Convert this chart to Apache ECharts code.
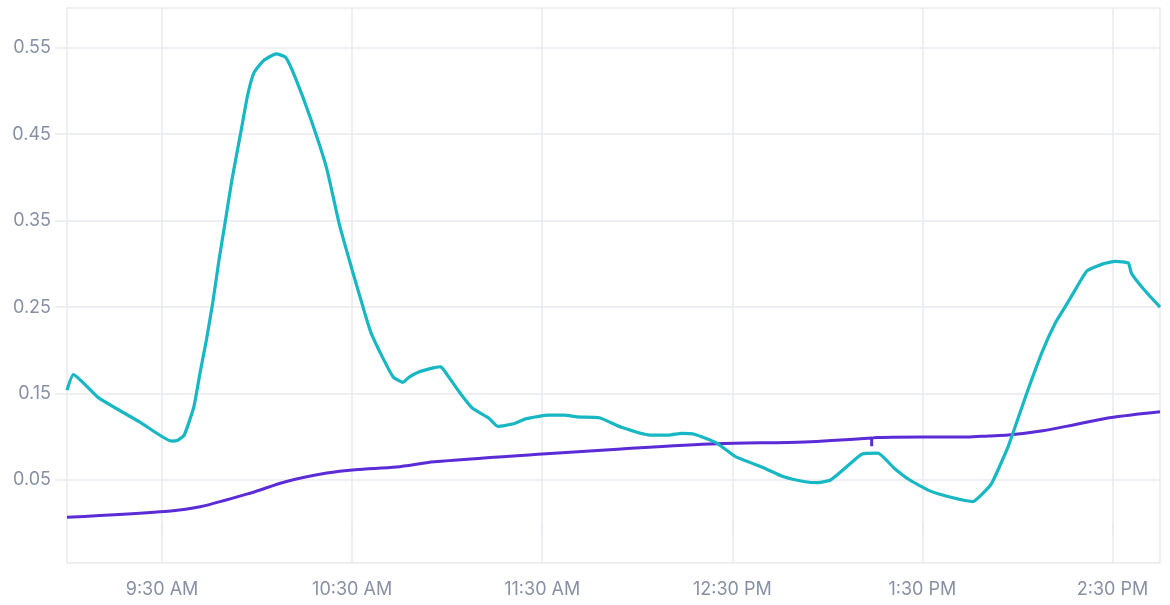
<!DOCTYPE html>
<html>
<head>
<meta charset="utf-8">
<script src="https://cdn.jsdelivr.net/npm/echarts@6/dist/echarts.min.js"></script>
<style>
  html, body { margin: 0; padding: 0; background: #fff; }
  #main { width: 1170px; height: 605px; }
</style>
</head>
<body>
<div id="main"></div>
<script>
// cyan series
let cyanTimes = ['09:00','09:02','09:10','09:23','09:33','09:35','09:37','09:40','09:42','09:44',
  '09:46','09:48','09:50','09:52','09:55','09:57','09:59','10:02','10:06','10:09',
  '10:12','10:17','10:22','10:26','10:30','10:34','10:36','10:40','10:43','10:46',
  '10:48','10:51','10:56','10:58','10:59','11:04','11:08','11:13','11:16','11:21',
  '11:25','11:32','11:37','11:41','11:48','11:55','12:04','12:10','12:14','12:18',
  '12:25','12:31','12:40','12:46','12:53','12:57','13:01','13:06','13:11','13:16',
  '13:21','13:26','13:32','13:39','13:46','13:50','13:52','13:57','14:03','14:08',
  '14:12','14:16','14:20','14:22','14:27','14:31','14:35','14:36','14:40','14:45'];
let cyanValues = [0.154,0.172,0.145,0.117,0.095,0.096,0.102,0.134,0.174,0.212,
  0.255,0.305,0.350,0.396,0.455,0.495,0.521,0.535,0.543,0.539,
  0.516,0.467,0.410,0.345,0.293,0.243,0.220,0.189,0.169,0.163,
  0.169,0.175,0.180,0.181,0.177,0.151,0.133,0.122,0.112,0.115,
  0.121,0.125,0.125,0.123,0.122,0.111,0.102,0.102,0.104,0.103,
  0.093,0.077,0.064,0.054,0.048,0.047,0.050,0.065,0.080,0.081,
  0.064,0.050,0.038,0.030,0.025,0.038,0.047,0.088,0.151,0.200,
  0.232,0.256,0.281,0.292,0.300,0.303,0.301,0.289,0.270,0.250];

// purple series
let purpleTimes = ['09:00','09:32','09:42','09:58','10:09','10:22','10:31','10:44','10:56','11:30',
  '11:55','12:25','12:53','13:14','13:14','13:14','13:30','13:44','13:51','13:57',
  '14:08','14:18','14:29','14:45'];
let purpleValues = [0.007,0.014,0.019,0.035,0.048,0.058,0.062,0.065,0.071,0.080,
  0.086,0.092,0.094,0.0985,0.089,0.0985,0.0997,0.0997,0.101,0.102,
  0.107,0.114,0.122,0.129];

let xTicks = ['09:30','10:30','11:30','12:30','13:30','14:30'];
let yTicks = [0.05,0.15,0.25,0.35,0.45,0.55];

// minutes since midnight
function toMin(hm) {
    let p = hm.split(':');
    return (+p[0]) * 60 + (+p[1]);
}
function fmtTime(v) {
    let h = Math.floor(v / 60);
    let m = Math.round(v % 60);
    let ap = h >= 12 ? 'PM' : 'AM';
    let hh = h % 12 === 0 ? 12 : h % 12;
    return hh + ':' + (m < 10 ? '0' + m : m) + ' ' + ap;
}
function pairs(t, v) {
    let temp = [];
    for (let i = 0; i < t.length; i++) {
        temp.push([toMin(t[i]), v[i]]);
    }
    return temp;
}

let gridColor = '#e8eaf0';
let labelColor = '#8790a5';
let font = 'Inter, "Open Sans", sans-serif';

let myChart = echarts.init(document.getElementById('main'));
myChart.setOption({
    animation: false,
    grid: {
        left: 67, top: 8, right: 10, bottom: 42,
        show: true,
        borderColor: gridColor,
        borderWidth: 1.5
    },
    xAxis: {
        type: 'value',
        min: toMin('09:00'),
        max: toMin('14:45'),
        axisLine: {show: false},
        axisTick: {
            show: true,
            length: 12,
            lineStyle: {color: gridColor, width: 1.5},
            customValues: xTicks.map(toMin)
        },
        axisLabel: {
            color: labelColor,
            fontSize: 18,
            fontFamily: font,
            margin: 18,
            customValues: xTicks.map(toMin),
            formatter: fmtTime
        },
        splitLine: {show: true, lineStyle: {color: gridColor, width: 1.5}}
    },
    yAxis: {
        type: 'value',
        min: -0.046,
        max: 0.596,
        axisLine: {show: false},
        axisTick: {
            show: true,
            length: 12,
            lineStyle: {color: gridColor, width: 1.5},
            customValues: yTicks
        },
        axisLabel: {
            color: labelColor,
            fontSize: 18,
            fontFamily: font,
            margin: 16,
            customValues: yTicks,
            formatter: function (v) { return v.toFixed(2); }
        },
        splitLine: {show: true, lineStyle: {color: gridColor, width: 1.5}}
    },
    series: [
        {
            name: 'purple',
            type: 'line',
            data: pairs(purpleTimes, purpleValues),
            showSymbol: false,
            smooth: 0.3,
            lineStyle: {color: '#5b2bd8', width: 3},
            itemStyle: {color: '#5b2bd8'}
        },
        {
            name: 'cyan',
            type: 'line',
            data: pairs(cyanTimes, cyanValues),
            showSymbol: false,
            smooth: 0.15,
            lineStyle: {color: '#17b7c3', width: 3.2},
            itemStyle: {color: '#17b7c3'}
        }
    ]
});
</script>
</body>
</html>
